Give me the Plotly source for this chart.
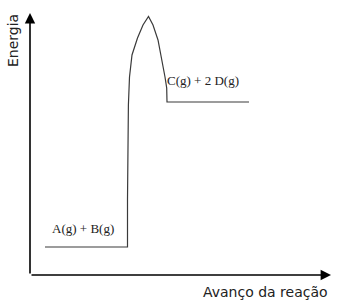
import plotly.graph_objects as go

# Reaction progress (pixel-like units) and energy values
progress = [45, 127.5, 127.5, 128.0, 128.4, 129.5, 132, 137.5, 143, 148.5, 153, 158, 162, 165, 166.7, 167, 249]
energy = [60, 60, 107, 157, 202, 230, 252, 269, 282, 290.5, 282, 267, 247, 230, 219, 205, 205]

reactant_label = "A(g) + B(g)"
product_label = "C(g) + 2 D(g)"
y_title = "Energia"
x_title = "Avanço da reação"

W, H = 340, 307

fig = go.Figure()
fig.add_trace(go.Scatter(x=progress, y=energy, mode="lines",
                         line=dict(color="#3a3a3a", width=1.2),
                         hoverinfo="skip", showlegend=False))

# axes with arrows
fig.add_annotation(x=30, y=294, ax=30, ay=32, xref="x", yref="y", axref="x", ayref="y",
                   showarrow=True, arrowhead=2, arrowsize=1.3, arrowwidth=1.6,
                   arrowcolor="black", text="")
fig.add_annotation(x=331, y=32, ax=30, ay=32, xref="x", yref="y", axref="x", ayref="y",
                   showarrow=True, arrowhead=2, arrowsize=1.3, arrowwidth=1.6,
                   arrowcolor="black", text="")

fig.add_annotation(x=13, y=266, text=y_title, textangle=-90, showarrow=False,
                   font=dict(family="DejaVu Sans", size=14, color="#222"))
fig.add_annotation(x=265, y=15, text=x_title, showarrow=False,
                   font=dict(family="DejaVu Sans", size=14, color="#222"))
fig.add_annotation(x=82.5, y=79, text=reactant_label, showarrow=False,
                   font=dict(family="Liberation Serif", size=13, color="#222"))
fig.add_annotation(x=202.5, y=227, text=product_label, showarrow=False,
                   font=dict(family="Liberation Serif", size=13, color="#222"))

fig.update_layout(width=W, height=H, margin=dict(l=0, r=0, t=0, b=0),
                  paper_bgcolor="white", plot_bgcolor="white",
                  xaxis=dict(range=[0, W], visible=False, fixedrange=True),
                  yaxis=dict(range=[0, H], visible=False, fixedrange=True))
fig.write_html("out.html")
